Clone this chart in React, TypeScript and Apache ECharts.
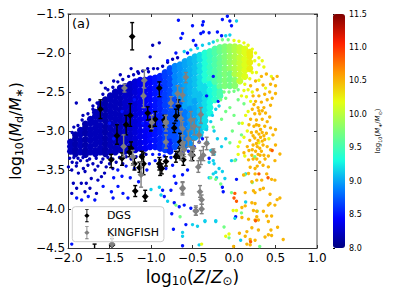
import React, { useEffect, useRef } from "react";
import * as echarts from "echarts";

const FONT = "DejaVu Sans";
const jet = ["#00007f", "#0000ff", "#007fff", "#17ffe0", "#7dff78", "#e6ff12", "#ff9700", "#ff2000", "#7f0000"];

// Dense cloud: each row is [log stellar mass, Z, ...dust ratios]
const denseRows: number[][] = [
  [8.2, -1.97, -3.14, -3.2, -3.26],
  [8.15, -1.91, -3.05, -3.1, -3.17, -3.24, -3.29],
  [8.2, -1.85, -2.99, -3.04, -3.12, -3.19, -3.27],
  [8.15, -1.79, -2.91, -2.96, -3.03, -3.11, -3.18, -3.25, -3.3],
  [8.2, -1.73, -2.85, -2.9, -2.98, -3.05, -3.12, -3.2, -3.27],
  [8.2, -1.67, -2.76, -2.81, -2.89, -2.96, -3.03, -3.1, -3.17, -3.25, -3.29],
  [8.2, -1.61, -2.65, -2.7, -2.78, -2.85, -2.93, -3, -3.07, -3.14, -3.22, -3.27],
  [8.15, -1.55, -2.6, -2.65, -2.72, -2.8, -2.87, -2.95, -3.02, -3.1, -3.17, -3.24, -3.29],
  [8.2, -1.49, -2.55, -2.6, -2.68, -2.75, -2.82, -2.9, -2.97, -3.05, -3.12, -3.19, -3.27],
  [8.2, -1.43, -2.5, -2.55, -2.63, -2.7, -2.78, -2.85, -2.92, -3, -3.07, -3.14, -3.22, -3.27],
  [8.2, -1.37, -2.45, -2.5, -2.58, -2.65, -2.73, -2.8, -2.87, -2.95, -3.02, -3.1, -3.17, -3.24],
  [8.25, -1.31, -2.43, -2.48, -2.55, -2.63, -2.7, -2.78, -2.85, -2.92, -3, -3.07, -3.14, -3.22, -3.26],
  [8.25, -1.25, -2.4, -2.46, -2.53, -2.6, -2.68, -2.75, -2.83, -2.9, -2.97, -3.05, -3.12, -3.2, -3.25],
  [8.3, -1.19, -2.37, -2.43, -2.5, -2.58, -2.65, -2.72, -2.8, -2.88, -2.95, -3.02, -3.1, -3.17, -3.24],
  [8.35, -1.13, -2.35, -2.4, -2.48, -2.55, -2.63, -2.7, -2.77, -2.85, -2.92, -3, -3.07, -3.15, -3.22],
  [8.4, -1.07, -2.35, -2.4, -2.47, -2.55, -2.62, -2.7, -2.77, -2.84, -2.92, -3, -3.07, -3.14, -3.22],
  [8.45, -1.01, -2.33, -2.38, -2.46, -2.53, -2.6, -2.68, -2.75, -2.83, -2.9, -2.97, -3.05, -3.12, -3.2],
  [8.5, -0.95, -2.32, -2.37, -2.45, -2.52, -2.6, -2.67, -2.74, -2.82, -2.9, -2.97, -3.04, -3.12, -3.2],
  [8.55, -0.89, -2.3, -2.35, -2.43, -2.5, -2.58, -2.65, -2.72, -2.8, -2.87, -2.95, -3.02, -3.1, -3.17, -3.22],
  [8.65, -0.83, -2.25, -2.3, -2.38, -2.45, -2.53, -2.6, -2.67, -2.75, -2.82, -2.9, -2.97, -3.05, -3.12, -3.2, -3.24],
  [8.7, -0.77, -2.2, -2.25, -2.33, -2.4, -2.48, -2.55, -2.62, -2.7, -2.78, -2.85, -2.92, -3, -3.07],
  [8.55, -0.77, -3.14, -3.22, -3.26],
  [8.9, -0.71, -2.17, -2.22, -2.3, -2.37, -2.45, -2.52],
  [8.7, -0.71, -2.6, -2.67, -2.74, -2.82, -2.9, -2.97, -3.05, -3.12, -3.2],
  [8.95, -0.65, -2.15, -2.2, -2.28, -2.35, -2.43, -2.5, -2.57],
  [8.75, -0.65, -2.65, -2.72, -2.8, -2.87, -2.95, -3.02, -3.1, -3.17],
  [9.0, -0.59, -2.11, -2.16, -2.24, -2.31, -2.39, -2.46, -2.54, -2.61, -2.68],
  [8.85, -0.59, -2.76, -2.83, -2.9, -2.98, -3.05, -3.13, -3.19],
  [9.05, -0.53, -2.08, -2.13, -2.21, -2.28, -2.36, -2.43, -2.5, -2.58, -2.65],
  [8.95, -0.53, -2.72, -2.8, -2.87, -2.95, -3.02, -3.1, -3.17],
  [9.1, -0.47, -2.05, -2.1, -2.18, -2.25, -2.33, -2.4, -2.48, -2.55],
  [9.0, -0.47, -2.62, -2.7, -2.77, -2.85, -2.92, -3, -3.08],
  [9.2, -0.41, -2.03, -2.08, -2.16, -2.23, -2.31, -2.38, -2.45],
  [9.1, -0.41, -2.53, -2.6, -2.68, -2.75, -2.82, -2.9, -2.97, -3.05],
  [9.35, -0.35, -2.0, -2.05, -2.13, -2.2, -2.28, -2.35],
  [9.2, -0.35, -2.43, -2.5, -2.58, -2.65, -2.72, -2.8, -2.87, -2.95],
  [9.45, -0.29, -1.98, -2.03, -2.1, -2.18, -2.25, -2.33],
  [9.3, -0.29, -2.4, -2.48, -2.55, -2.63, -2.7, -2.77],
  [9.55, -0.23, -1.95, -2, -2.08, -2.15, -2.23, -2.3, -2.37],
  [9.4, -0.23, -2.45, -2.52, -2.6],
  [9.65, -0.17, -1.93, -1.98, -2.06, -2.13, -2.2, -2.28, -2.35, -2.43],
  [9.5, -0.17, -2.5, -2.55],
  [9.75, -0.11, -1.92, -1.97, -2.05, -2.12, -2.2, -2.27, -2.35, -2.42],
  [9.85, -0.05, -1.92, -1.97, -2.05, -2.12, -2.2],
  [9.7, -0.05, -2.27, -2.34, -2.42],
  [9.95, 0.01, -1.92, -1.97, -2.05, -2.12, -2.2, -2.27],
  [9.8, 0.01, -2.35, -2.42],
  [10.05, 0.07, -1.93, -1.98, -2.06, -2.13, -2.2, -2.28, -2.36],
  [10.15, 0.13, -1.95, -2, -2.08, -2.15, -2.22, -2.3],
  [10.25, 0.19, -1.99, -2.04, -2.12, -2.2],
];

// Scattered points, one list per colour level, [Z, dust ratio]
const sparseNavy = [[-1.9, -2.64], [-1.74, -2.6], [-1.6, -2.38], [-1.37, -2.28], [-0.98, -1.9], [-0.9, -1.87], [-1.01, -2.05], [-1.24, -2.2], [-1.04, -2.2], [-1.15, -2.26], [-1.45, -2.36], [-1.55, -2.45], [-1.7, -2.68], [-1.82, -2.8], [-1.93, -2.95], [-1.84, -3.67], [-1.78, -3.67], [-1.72, -3.61], [-1.64, -3.63], [-1.56, -3.54], [-1.955, -3.5], [-1.875, -3.54], [-1.795, -3.52], [-1.995, -3.46], [-1.895, -3.41], [-1.815, -3.48], [-1.675, -3.5], [-1.597, -3.585], [-1.736, -3.735], [-1.796, -3.78], [-1.657, -3.8], [-1.936, -3.67], [-1.955, -3.8], [-1.896, -3.735], [-1.95, -3.4], [-1.7, -3.42], [-1.6, -3.4], [-1.5, -3.42], [-1.42, -3.4], [-1.77, -3.38], [-1.85, -3.38], [-1.98, -3.35],
  [-1.95, -3.02], [-1.88, -2.93], [-1.83, -2.86], [-1.76, -2.78], [-1.7, -2.72], [-1.65, -2.64], [-1.58, -2.53], [-1.52, -2.47], [-1.46, -2.44], [-1.4, -2.37], [-1.34, -2.34], [-1.27, -2.3], [-1.21, -2.28], [-1.16, -2.24], [-1.1, -2.23], [-1.03, -2.24], [-0.97, -2.2], [-0.92, -2.2], [-0.86, -2.17], [-0.8, -2.12], [-0.74, -2.08], [-0.68, -2.06],
  [-1.93, -3.34], [-1.88, -3.35], [-1.82, -3.34], [-1.74, -3.36], [-1.66, -3.35], [-1.58, -3.36], [-1.52, -3.34], [-1.46, -3.36], [-1.38, -3.34], [-1.3, -3.33], [-1.24, -3.36], [-1.18, -3.33], [-1.12, -3.31], [-1.06, -3.3], [-1.9, -3.45], [-1.76, -3.44], [-1.64, -3.45], [-1.54, -3.46], [-1.46, -3.48], [-1.34, -3.42]];
const sparseBlue = [[-1.477, -3.78], [-1.577, -3.71], [-1.398, -3.71], [-1.338, -3.8], [-1.278, -3.86], [-1.457, -3.86], [-1.677, -3.885], [-1.896, -3.86], [-1.756, -3.84], [-1.836, -3.885], [-1.955, -4.45], [-1.4, -3.5], [-1.3, -3.45], [-1.25, -3.6], [-1.45, -3.6], [-1.35, -3.58], [-1.2, -3.48], [-1.05, -3.5], [-0.95, -3.38], [-1.15, -3.65], [-0.67, -1.58], [-0.62, -1.75], [-0.5, -1.65], [-0.7, -2], [-0.49, -1.84], [-0.64, -1.81], [-0.08, -1.53], [-0.14, -1.57], [-0.05, -1.59], [-0.03, -1.65], [-0.37, -1.6], [-0.38, -1.64], [-0.37, -1.73], [-0.3, -1.74], [-0.2, -1.73], [-0.15, -1.78], [-0.4, -1.75], [-0.46, -1.9], [-0.56, -2], [-0.8, -2.1], [-0.72, -3.58], [-0.7, -3.67], [-0.86, -3.76], [-0.84, -3.84], [-0.76, -3.76], [-0.72, -3.92], [-0.66, -3.97], [-0.75, -4.06], [-0.73, -4.26], [-0.62, -4.47], [-0.58, -4.2], [-0.62, -3.56], [-0.56, -3.5], [-0.6, -3.95], [-0.52, -3.99], [-0.14, -3.72], [-0.13, -3.78], [-0.3, -3.35], [-0.25, -2.3], [-0.33, -2.55], [-0.19, -2.62], [0.03, -3.62], [0.02, -4.1],
  [-0.98, -3.3], [-0.9, -3.3], [-0.84, -3.32], [-0.76, -3.34], [-0.7, -3.3], [-0.62, -3.27], [-0.55, -3.26], [-0.48, -3.2], [-0.42, -3.14], [-0.38, -3.1], [-1.02, -3.42], [-0.82, -3.48], [-0.74, -3.44], [-1.5, -2.9], [-1.2, -2.6], [-1.1, -2.9], [-1.35, -2.75], [-1.0, -3.1], [-1.45, -3.1], [-1.3, -3.05]];
const sparseCyan = [[-0.62, -4.3], [-0.62, -4.35], [-0.42, -4.46], [-0.5, -4.2], [-0.44, -4.22], [-0.35, -4.16], [-0.22, -4.16], [0.03, -1.59], [-0.05, -1.77], [-0.1, -1.78], [-0.24, -3.42], [-0.14, -3.52], [-0.11, -3.61], [-0.25, -3.38], [-0.18, -3.48], [-0.03, -3.38], [0.02, -3.37], [0.14, -3.55], [-0.22, -3.53], [-0.21, -3.6], [0.14, -3.91], [0.01, -4.12], [-0.22, -4.15], [-0.35, -4.15], [0.08, -4.4], [-0.24, -3.0], [-0.2, -3.1], [-0.15, -3.2], [-0.28, -3.25], [-0.1, -3.1], [-0.32, -3.15], [-0.3, -3.4], [-0.24, -3.3], [-1.0, -3.75], [-0.9, -3.72], [-0.8, -3.9], [-0.88, -3.82], [-0.3, -3.6], [-0.25, -3.55],
  [-0.6, -1.98], [-0.52, -1.96], [-0.44, -1.94], [-0.38, -1.9], [-0.3, -1.88], [-0.25, -1.86], [-0.33, -2.98], [-0.28, -2.88], [-0.26, -2.8], [-0.22, -2.72], [-0.38, -3.02], [-0.18, -2.68]];
const sparseGreen = [[0.01, -3.38], [0.25, -3.33], [0.13, -3.56], [0.22, -3.66], [-0.28, -3.6], [-0.16, -3.68], [-0.03, -3.79], [0.28, -4.03], [0.09, -4.05], [-0.12, -4.23], [-0.06, -4.37], [0.31, -4.48], [-0.05, -2.7], [0.0, -2.8], [0.06, -2.9], [-0.1, -2.75], [-0.15, -2.85], [0.09, -3.05], [-0.02, -3.0], [0.12, -2.65], [0.05, -2.6], [-0.05, -3.15], [-0.22, -3.62], [-0.7, -3.95], [-0.65, -4.1], [-0.25, -2.95],
  [-0.2, -1.84], [-0.14, -1.83], [-0.07, -1.83], [-0.12, -2.5], [-0.06, -2.5], [0.0, -2.49], [0.05, -2.47], [-0.16, -2.6], [-0.1, -2.58]];
const sparseYellow = [[0.05, -3.3], [0.13, -3.32], [0.1, -2.9], [0.14, -2.8], [0.2, -2.62], [0.17, -2.75], [0.22, -2.5], [0.3, -2.35], [0.45, -2.3], [0.38, -2.45], [-0.01, -4.02], [0.03, -4.02], [-0.06, -4.32], [0.07, -3.14], [0.12, -3.08], [0.16, -3.0], [0.05, -3.2], [0.3, -3.15], [0.42, -3.1], [-0.1, -4.35], [-0.39, -4.45],
  [0.0, -1.84], [0.06, -1.85], [0.12, -1.87], [0.17, -1.9], [0.22, -1.95], [0.26, -2.0], [0.3, -2.06], [0.34, -2.1], [0.25, -2.1], [0.3, -2.15], [0.36, -2.18], [0.22, -2.25], [0.27, -2.25], [0.13, -2.4], [0.19, -2.33], [0.12, -2.48], [0.17, -2.47], [0.09, -2.55], [0.15, -2.56]];
const sparseOrange = [[0.215, -3.31], [0.314, -3.31], [0.414, -3.32], [0.553, -3.295], [0.175, -3.37], [0.274, -3.36], [0.374, -3.36], [0.493, -3.38], [0.195, -3.465], [0.254, -3.48], [0.414, -3.46], [0.175, -3.545], [0.254, -3.55], [0.115, -3.565], [0.394, -3.55], [0.274, -3.63], [0.334, -3.63], [0.215, -3.65], [0.493, -3.63], [0.453, -3.62], [0.234, -3.765], [0.314, -3.75], [0.354, -3.735], [0.254, -3.79], [0.434, -3.81], [0.135, -3.79], [0.553, -3.86], [0.52, -3.88], [0.493, -3.95], [0.215, -3.92], [0.254, -3.93], [0.434, -3.93], [0.414, -3.95], [0.095, -3.98], [0.135, -3.96], [0.234, -4.02], [0.354, -4.03], [0.274, -4.03], [0.394, -4.09], [0.453, -4.09], [0.095, -4.11], [0.175, -4.13], [0.274, -4.1], [0.254, -4.14], [0.294, -4.14], [0.414, -4.16], [0.525, -4.235], [0.445, -4.27], [0.215, -4.24], [0.155, -4.29], [0.294, -4.27], [0.065, -4.31], [0.135, -4.35], [0.195, -4.39], [0.374, -4.36], [0.414, -4.33], [0.453, -4.34], [0.593, -4.39], [0.155, -4.45], [0.195, -4.46], [0.254, -4.4], [-0.005, -4.48],
  [0.2, -2.42], [0.26, -2.36], [0.33, -2.3], [0.39, -2.27], [0.47, -2.33], [0.52, -2.3], [0.5, -2.42], [0.44, -2.4], [0.35, -2.41], [0.28, -2.47], [0.23, -2.55], [0.3, -2.55], [0.37, -2.53], [0.43, -2.5], [0.5, -2.52], [0.46, -2.58], [0.26, -2.62], [0.33, -2.63], [0.4, -2.6], [0.44, -2.67], [0.36, -2.7], [0.29, -2.7], [0.22, -2.72], [0.25, -2.78], [0.31, -2.78], [0.38, -2.77], [0.43, -2.82], [0.2, -2.85], [0.27, -2.86], [0.34, -2.85], [0.4, -2.88], [0.18, -2.92], [0.24, -2.94], [0.3, -2.93], [0.37, -2.94], [0.44, -2.96], [0.21, -3.02], [0.27, -3.01], [0.34, -3.02], [0.39, -3.03], [0.25, -3.09], [0.32, -3.08], [0.19, -3.12], [0.37, -3.11], [0.47, -3.05], [0.5, -2.98], [0.23, -3.18], [0.28, -3.2], [0.35, -3.18], [0.4, -3.2], [0.16, -3.2], [0.18, -3.25], [0.26, -3.26], [0.33, -3.26], [0.44, -3.24], [0.12, -3.28], [0.5, -3.18],
  [0.24, -2.66], [0.3, -2.74], [0.34, -2.74], [0.27, -2.92], [0.32, -2.98], [0.3, -3.04], [0.36, -3.06], [0.23, -3.06], [0.29, -3.12], [0.34, -3.13], [0.27, -3.16], [0.31, -3.22], [0.22, -3.24], [0.29, -3.3], [0.36, -3.31], [0.23, -3.36], [0.31, -3.4], [0.35, -3.44], [0.28, -3.45]];
const sparseRed = [[0.46, -3.25], [0.3, -3.55], [0.41, -3.6], [0.26, -4.15], [0.2, -4.42], [0.01, -3.8], [0.03, -3.9], [-0.0, -3.86]];

// [Z, dust ratio, lower end, upper end]
const dgs = [[-1.227, -1.79, -1.96, -1.61], [-1.61, -2.72, -2.84, -2.6], [-0.9, -2.45, -2.56, -2.37], [-1.04, -2.77, -2.86, -2.69], [-1.25, -2.8, -2.94, -2.65], [-1.3, -2.92, -3.05, -2.8], [-1.0, -2.94, -3.0, -2.85], [-0.95, -2.85, -2.94, -2.75], [-0.67, -2.68, -2.8, -2.6], [-0.7, -2.81, -2.87, -2.72], [-0.83, -2.88, -2.95, -2.8], [-1.41, -3.06, -3.17, -2.92], [-0.65, -3.14, -3.2, -3.03], [-0.72, -2.96, -3.02, -2.9], [-1.24, -3.22, -3.3, -3.14], [-1.48, -3.37, -3.47, -3.3], [-1.35, -3.35, -3.44, -3.28], [-1.2, -3.42, -3.5, -3.35], [-1.09, -3.42, -3.56, -3.28], [-1.14, -3.47, -3.53, -3.4], [-1.11, -3.33, -3.4, -3.26], [-0.89, -3.46, -3.57, -3.37], [-0.9, -3.42, -3.5, -3.34], [-1.19, -3.77, -3.84, -3.7], [-1.07, -3.84, -3.9, -3.76], [-0.7, -3.33, -3.4, -3.26], [-0.61, -3.37, -3.44, -3.3], [-0.5, -3.31, -3.38, -3.26], [-1.26, -3.27, -3.33, -3.2], [-1.47, -4.46, -4.55, -4.38], [-1.68, -4.6, -4.7, -4.45], [-0.84, -2.86, -2.93, -2.8], [-0.66, -3.29, -3.35, -3.22], [-0.82, -3.39, -3.45, -3.33], [-0.87, -3.48, -3.55, -3.42]];
const kingfish = [[-1.32, -2.45, -2.5, -2.4], [-1.08, -2.35, -2.45, -2.22], [-1.09, -2.55, -2.7, -2.36], [-0.76, -2.64, -2.7, -2.56], [-0.68, -2.52, -2.65, -2.42], [-0.62, -2.54, -2.62, -2.45], [-0.58, -2.31, -2.38, -2.25], [-0.99, -2.89, -2.97, -2.8], [-0.82, -2.9, -3.0, -2.8], [-1.33, -3.2, -3.33, -3.05], [-1.12, -3.56, -3.72, -3.4], [-1.22, -3.33, -3.44, -3.25], [-0.62, -3.74, -3.82, -3.65], [-0.46, -4.02, -4.08, -3.96], [-1.47, -4.45, -4.55, -4.35], [-0.82, -2.88, -2.95, -2.8], [-0.82, -3.14, -3.22, -3.05], [-0.64, -2.84, -2.95, -2.75], [-0.62, -2.97, -3.06, -2.88], [-0.52, -2.86, -2.98, -2.75], [-0.4, -2.79, -2.9, -2.7], [-0.48, -2.94, -3.05, -2.84], [-0.42, -3.05, -3.15, -2.95], [-0.33, -3.16, -3.24, -3.08], [-0.25, -3.27, -3.31, -3.23], [-0.37, -3.31, -3.38, -3.2], [-0.4, -3.35, -3.43, -3.25], [-0.43, -3.46, -3.53, -3.38], [-0.49, -3.22, -3.32, -3.12], [-0.64, -3.29, -3.37, -3.2], [-0.62, -3.16, -3.25, -3.06], [-0.6, -3.24, -3.33, -3.14], [-0.62, -3.73, -3.8, -3.66], [-0.41, -3.78, -3.85, -3.7], [-0.39, -3.88, -3.94, -3.82], [-0.39, -4.0, -4.06, -3.94], [-0.46, -4.03, -4.08, -3.98], [-0.55, -3.1, -3.2, -3.0], [-0.52, -3.3, -3.38, -3.2]];

const tickFmt = (v: number) => v.toFixed(1).replace("-", "\u2212");

const errorBars = (params: any, api: any) => {
  const x = api.value(0);
  const p = api.coord([x, api.value(1)]);
  const lo = api.coord([x, api.value(2)]);
  const hi = api.coord([x, api.value(3)]);
  const style = { stroke: api.visual("color"), lineWidth: 1.4, fill: "none" };
  const m = 3.4;
  return {
    type: "group",
    children: [
      { type: "line", shape: { x1: p[0], y1: lo[1], x2: p[0], y2: hi[1] }, style },
      { type: "line", shape: { x1: p[0] - 2, y1: lo[1], x2: p[0] + 2, y2: lo[1] }, style },
      { type: "line", shape: { x1: p[0] - 2, y1: hi[1], x2: p[0] + 2, y2: hi[1] }, style },
      { type: "polygon", shape: { points: [[p[0], p[1] - m], [p[0] + m, p[1]], [p[0], p[1] + m], [p[0] - m, p[1]]] }, style: { fill: api.visual("color") } },
    ],
  };
};

const legendIcon = "path://M1 0H5V1H3.5V5L6 7.5L3.5 10V14H5V15H1V14H2.5V10L0 7.5L2.5 5V1H1Z";

export default function App() {
  const ref = useRef<HTMLDivElement>(null);
  useEffect(() => {
    const chart = echarts.init(ref.current!, undefined, { renderer: "svg" });
    const dense = denseRows.flatMap((r) => r.slice(2).map((y) => [r[1], y, r[0]]));
    const tag = (list: number[][], m: number) => list.map((p) => [p[0], p[1], m]);
    const sparse = [
      ...tag(sparseNavy, 8.2), ...tag(sparseBlue, 8.5), ...tag(sparseCyan, 9.15), ...tag(sparseGreen, 9.7),
      ...tag(sparseYellow, 10.2), ...tag(sparseOrange, 10.5), ...tag(sparseRed, 10.85),
    ];
    const tickLabel = { fontFamily: FONT, fontSize: 12, color: "#000" };
    const nameRich = (s: number) => ({
      t: { fontFamily: FONT, fontSize: s, color: "#000" },
      i: { fontFamily: FONT, fontSize: s, fontStyle: "italic", color: "#000" },
      s: { fontFamily: FONT, fontSize: s * 0.7, color: "#000", verticalAlign: "bottom", padding: [s * 0.45, 0, 0, 0] },
      si: { fontFamily: FONT, fontSize: s * 0.7, fontStyle: "italic", color: "#000", verticalAlign: "bottom", padding: [s * 0.45, 0, 0, 0] },
    });
    chart.setOption({
      animation: false,
      backgroundColor: "#fff",
      textStyle: { fontFamily: FONT },
      grid: [
        { left: 66.5, top: 14, width: 250.5, height: 234, show: false },
        { left: 333, top: 14, width: 12, height: 234, show: false },
      ],
      xAxis: [
        { type: "value", gridIndex: 0, min: -2, max: 1, interval: 0.5, position: "bottom", splitLine: { show: false },
          axisLine: { onZero: false, lineStyle: { color: "#333", width: 1 } },
          axisTick: { inside: true, length: 3, lineStyle: { color: "#333" } },
          axisLabel: { ...tickLabel, margin: 4, formatter: tickFmt, showMinLabel: true, showMaxLabel: true },
          name: "{t|log}{s|10}{t|(}{i|Z}{t|/}{i|Z}{s|\u2299}{t|)}", nameLocation: "middle", nameGap: 19,
          nameTextStyle: { rich: nameRich(17) } },
        { type: "value", gridIndex: 0, min: -2, max: 1, interval: 0.5, position: "top", splitLine: { show: false },
          axisLine: { onZero: false, lineStyle: { color: "#888", width: 1.5 } },
          axisTick: { inside: true, length: 3, lineStyle: { color: "#333" } }, axisLabel: { show: false } },
        { type: "value", gridIndex: 1, min: 0, max: 1, show: false },
      ],
      yAxis: [
        { type: "value", gridIndex: 0, min: -4.5, max: -1.5, interval: 0.5, position: "left", splitLine: { show: false },
          axisLine: { onZero: false, lineStyle: { color: "#333", width: 1 } },
          axisTick: { inside: true, length: 3, lineStyle: { color: "#333" } },
          axisLabel: { ...tickLabel, margin: 3, formatter: tickFmt, showMinLabel: true, showMaxLabel: true },
          name: "{t|log}{s|10}{t|(}{i|M}{s|d}{t|/}{i|M}{s|\u2217}{t|)}", nameLocation: "middle", nameGap: 39,
          nameTextStyle: { rich: nameRich(15.5) } },
        { type: "value", gridIndex: 0, min: -4.5, max: -1.5, interval: 0.5, position: "right", splitLine: { show: false },
          axisLine: { onZero: false, lineStyle: { color: "#888", width: 1.5 } },
          axisTick: { inside: true, length: 3, lineStyle: { color: "#333" } }, axisLabel: { show: false } },
        { type: "value", gridIndex: 1, min: 8, max: 11.5, interval: 0.5, position: "right", splitLine: { show: false },
          axisLine: { show: false },
          axisTick: { length: 2, lineStyle: { color: "#000" } },
          axisLabel: { fontFamily: FONT, fontSize: 8, color: "#000", margin: 4, formatter: (v: number) => v.toFixed(1), showMinLabel: true, showMaxLabel: true },
          name: "{t|log}{s|10}{t|(}{i|M}{si|\u2217}{t|/}{i|M}{s|\u2299}{t|)}", nameLocation: "middle", nameGap: 29, nameRotate: 90,
          nameTextStyle: { rich: nameRich(7) } },
      ],
      visualMap: {
        type: "continuous", show: true, seriesIndex: [0, 1], dimension: 2, min: 8, max: 11.5,
        left: 333, top: 14, itemWidth: 12, itemHeight: 234, padding: 0, text: null, calculable: false, hoverLink: false, realtime: false,
        inRange: { color: jet },
      },
      legend: {
        show: true, left: 72.3, top: 206.7, orient: "vertical", padding: [2.5, 5, 2.5, 12], z: 20,
        itemWidth: 6, itemHeight: 13, itemGap: 4, selectedMode: false,
        backgroundColor: "rgba(255,255,255,0.8)", borderColor: "#ccc", borderWidth: 1, borderRadius: 3,
        textStyle: { fontFamily: FONT, fontSize: 11, color: "#000", padding: [0, 0, 0, 12] },
        data: [{ name: "DGS", icon: legendIcon }, { name: "KINGFISH", icon: legendIcon }],
      },
      series: [
        { type: "scatter", z: 2, xAxisIndex: 0, yAxisIndex: 0, data: dense, symbolSize: 7, itemStyle: { opacity: 1 }, silent: true, clip: true },
        { type: "scatter", z: 3, xAxisIndex: 0, yAxisIndex: 0, data: sparse, symbolSize: 3.4, itemStyle: { opacity: 1 }, silent: true, clip: true },
        { type: "custom", z: 5, name: "DGS", xAxisIndex: 0, yAxisIndex: 0, data: dgs, encode: { x: 0, y: 1 }, renderItem: errorBars, itemStyle: { color: "#000" }, silent: true, clip: true },
        { type: "custom", z: 6, name: "KINGFISH", xAxisIndex: 0, yAxisIndex: 0, data: kingfish, encode: { x: 0, y: 1 }, renderItem: errorBars, itemStyle: { color: "#808080" }, silent: true, clip: true },
      ],
      graphic: [
        { type: "text", left: 72, top: 17, style: { text: "(a)", fontFamily: FONT, fontSize: 13, fill: "#000" } },
      ],
    });
    return () => chart.dispose();
  }, []);
  return (
    <div style={{ position: "absolute", left: 0, top: 0 }}>
      <div ref={ref} style={{ width: 394, height: 296 }} />
    </div>
  );
}
